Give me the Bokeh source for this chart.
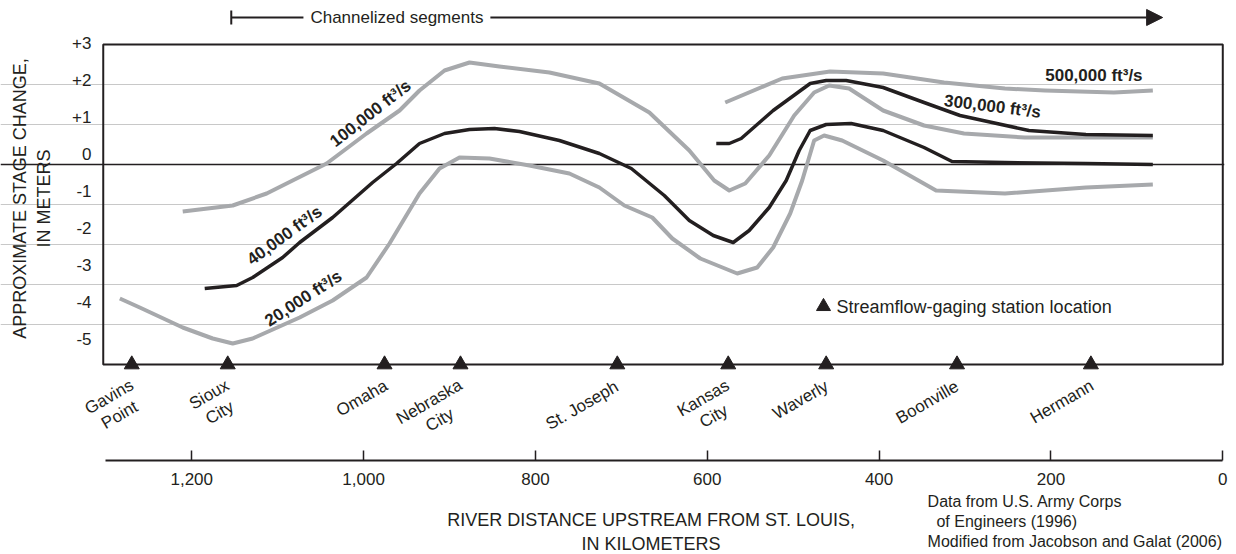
import math
from bokeh.plotting import figure
from bokeh.layouts import column
from bokeh.models import (Range1d, FixedTicker, Label, Arrow, TeeHead, NormalHead,
                          ColumnDataSource, Grid, NumeralTickFormatter)
from bokeh.core.properties import value
from bokeh.embed import file_html
from bokeh.resources import INLINE

# ---------------- data (river km upstream from St. Louis, stage change in m) ----------------
Q20_KM = [1283.7, 1260.5, 1210.5, 1175.6, 1152.3, 1129.1, 1074.4, 1036.0, 996.5, 969.8, 934.9,
          911.6, 888.4, 853.5, 807.0, 760.5, 725.6, 696.5, 664.0, 640.7, 608.1, 565.1, 541.9,
          523.3, 503.5, 489.5, 475.6, 464.0, 443.0, 395.3, 333.7, 253.5, 159.3, 81.4]
Q20_M = [-3.35, -3.575, -4.075, -4.35, -4.475, -4.35, -3.825, -3.4, -2.825, -1.975, -0.725,
         -0.1, 0.175, 0.15, -0.025, -0.225, -0.575, -1.025, -1.325, -1.85, -2.35, -2.725, -2.575,
         -2.075, -1.225, -0.4, 0.6, 0.725, 0.6, 0.1, -0.65, -0.725, -0.575, -0.5]

Q40_KM = [1184.9, 1147.7, 1129.1, 1094.2, 1074.4, 1036.0, 989.5, 961.6, 934.9, 905.8, 876.7,
          847.7, 818.6, 772.1, 725.6, 688.4, 650.0, 620.9, 593.0, 569.8, 551.2, 527.9, 508.1,
          493.0, 480.2, 461.6, 432.6, 395.3, 347.7, 315.1, 253.5, 159.3, 81.4]
Q40_M = [-3.1, -3.025, -2.825, -2.325, -1.95, -1.325, -0.45, 0.025, 0.525, 0.775, 0.875,
         0.9, 0.825, 0.6, 0.275, -0.1, -0.775, -1.4, -1.775, -1.95, -1.65, -1.075, -0.4,
         0.35, 0.85, 1.0, 1.025, 0.85, 0.425, 0.075, 0.05, 0.025, 0.0]

Q100_KM = [1210.5, 1152.3, 1112.8, 1082.6, 1043.0, 996.5, 958.1, 934.9, 905.8, 876.7, 841.9,
           783.7, 725.6, 667.4, 620.9, 591.9, 574.4, 555.8, 527.9, 498.8, 475.6, 458.1, 434.9,
           395.3, 347.7, 301.2, 230.2, 155.8, 81.4]
Q100_M = [-1.175, -1.025, -0.725, -0.4, 0.025, 0.775, 1.35, 1.85, 2.35, 2.55, 2.45,
          2.3, 2.025, 1.3, 0.35, -0.4, -0.65, -0.475, 0.225, 1.225, 1.8, 1.975, 1.9,
          1.35, 0.975, 0.775, 0.675, 0.675, 0.675]

Q300_KM = [589.5, 574.4, 560.5, 523.3, 480.2, 461.6, 438.4, 395.3, 347.7, 305.8, 225.6, 159.3, 81.4]
Q300_M = [0.525, 0.525, 0.65, 1.35, 2.025, 2.1, 2.1, 1.925, 1.55, 1.225, 0.85, 0.75, 0.725]

Q500_KM = [579.1, 512.8, 457.0, 395.3, 324.4, 253.5, 207.0, 126.7, 81.4]
Q500_M = [1.55, 2.15, 2.325, 2.275, 2.05, 1.9, 1.85, 1.8, 1.85]

CURVE_LABELS = ["100,000 ft\u00b3/s", "40,000 ft\u00b3/s", "20,000 ft\u00b3/s",
                "300,000 ft\u00b3/s", "500,000 ft\u00b3/s"]
CURVE_LABEL_KM = [992, 1092, 1070, 268, 150]
CURVE_LABEL_M = [1.275, -1.775, -3.35, 1.45, 2.225]
CURVE_LABEL_ANGLE = [38, 36, 33, -7, 0]

STATIONS = ["Gavins\nPoint", "Sioux\nCity", "Omaha", "Nebraska\nCity", "St. Joseph",
            "Kansas\nCity", "Waverly", "Boonville", "Hermann"]
STATION_KM = [1269.8, 1158.1, 975.6, 887.2, 704.7, 575.6, 461.6, 309.3, 153.5]

X_TICKS = [1200, 1000, 800, 600, 400, 200, 0]
Y_TICKS = [3, 2, 1, 0, -1, -2, -3, -4, -5]

CHANNEL_START_KM = 1154
CHANNEL_END_KM = 70

# ---------------- styling / layout ----------------
FONT = "Liberation Sans"
INK = "#231f20"
GRAY = "#a7a9ac"
GRIDC = "#c8c8c8"

W = 1236
H_TOP, H_BOT = 492, 62
RB = 12                          # right border of the chart figure
PX_PER_KM = 0.8592
PX_PER_M = 40.0
X_HI = -2.0
X_LO = X_HI + (W - RB) / PX_PER_KM
BOX_KM = (1303, 0)
Y_TOP_PX = 44                    # pixel row of +3 m
Y_HI = 3 + Y_TOP_PX / PX_PER_M
Y_LO = 3 - (460 - Y_TOP_PX) / PX_PER_M
LAB_PX = 37.0                    # spacing of the printed y labels in the original artwork
LAB_TOP_PX = 42

p = figure(width=W, height=H_TOP, output_backend="svg", toolbar_location=None,
           x_range=Range1d(X_LO, X_HI), y_range=Range1d(Y_LO, Y_HI),
           y_axis_location=None, min_border_left=0, min_border_right=RB,
           min_border_top=0, min_border_bottom=32, outline_line_color=None)
p.xgrid.visible = False
p.ygrid.visible = False

p.add_layout(Grid(dimension=1, ticker=FixedTicker(ticks=[t for t in Y_TICKS if t not in (0, 3, -5)]),
                  grid_line_color=GRIDC, grid_line_width=1.2, bounds=(BOX_KM[1], BOX_KM[0])))
p.add_layout(Grid(dimension=1, ticker=FixedTicker(ticks=[0]),
                  grid_line_color=INK, grid_line_width=1.4, bounds=(BOX_KM[1], BOX_KM[0])))

# bottom axis
xa = p.xaxis[0]
xa.ticker = FixedTicker(ticks=X_TICKS)
xa.formatter = NumeralTickFormatter(format="0,0")
xa.bounds = (0, 1300)
xa.major_tick_in = 10
xa.major_tick_out = 0
xa.minor_tick_line_color = None
xa.axis_line_color = INK
xa.axis_line_width = 2
xa.major_tick_line_color = INK
xa.major_tick_line_width = 1.5
xa.major_label_standoff = 12
xa.major_label_text_font = FONT
xa.major_label_text_font_size = "17px"
xa.major_label_text_color = INK

# y labels (their own scale, as printed in the original artwork)
p.extra_y_ranges = {"lab": Range1d(3 - (460 - LAB_TOP_PX) / LAB_PX, 3 + LAB_TOP_PX / LAB_PX)}
p.text(x=[X_LO - 91 / PX_PER_KM] * len(Y_TICKS), y=Y_TICKS,
       text=[(f"+{t}" if t > 0 else str(t)) for t in Y_TICKS], y_range_name="lab",
       text_font=value(FONT), text_font_size=value("17px"), text_color=INK,
       text_align="right", text_baseline="middle")

p.text(x=[X_LO - 31 / PX_PER_KM], y=[-0.85], text=["APPROXIMATE STAGE CHANGE,\nIN METERS"],
       angle=math.pi / 2, text_font=value(FONT), text_font_size=value("18px"),
       text_color=INK, text_align="center", text_baseline="middle")

# frame box
p.quad(left=[BOX_KM[0]], right=[BOX_KM[1]], top=[max(Y_TICKS)], bottom=[min(Y_TICKS)],
       fill_color=None, line_color=INK, line_width=2)

# curves
for xs, ys, col, lw in [(Q20_KM, Q20_M, GRAY, 4), (Q100_KM, Q100_M, GRAY, 4),
                        (Q500_KM, Q500_M, GRAY, 4), (Q40_KM, Q40_M, INK, 3.5),
                        (Q300_KM, Q300_M, INK, 3.5)]:
    p.line(xs, ys, line_color=col, line_width=lw, line_join="round")

p.text(x=CURVE_LABEL_KM, y=CURVE_LABEL_M, text=CURVE_LABELS,
       angle=[math.radians(a) for a in CURVE_LABEL_ANGLE],
       text_font=value(FONT), text_font_size=value("17px"), text_font_style="bold",
       text_color=INK, text_align="center", text_baseline="middle")

# stations
p.scatter(STATION_KM, [min(Y_TICKS)] * len(STATION_KM), marker="triangle", size=15, color=INK)


def tw(s, size):
    w = 0.0
    for c in s:
        if c in "ijl.,' ":
            w += 0.24
        elif c in "ftr":
            w += 0.31
        elif c in "mwMW":
            w += 0.86
        elif c.isupper():
            w += 0.69
        else:
            w += 0.55
    return w * size


LAB_SIZE = 17
LH = 1.1 * LAB_SIZE
c30, s30 = math.cos(math.radians(30)), math.sin(math.radians(30))
xo, yo = [], []
for name in STATIONS:
    lines = name.split("\n")
    w1 = tw(lines[0], LAB_SIZE)
    n = len(lines)
    xo.append(-c30 * w1 / 2 + (n - 1) * 0.5 * s30 * LH + 1)
    yo.append(20 + s30 * w1 / 2 + (n - 1) * 0.5 * c30 * LH)
src = ColumnDataSource(dict(x=STATION_KM, y=[min(Y_TICKS)] * len(STATION_KM), t=STATIONS,
                            xo=xo, yo=yo))
p.text(x="x", y="y", text="t", x_offset="xo", y_offset="yo", source=src,
       angle=math.radians(30), text_font=value(FONT), text_font_size=value(f"{LAB_SIZE}px"),
       text_color=INK, text_align="center", text_baseline="middle", text_line_height=1.1)

# legend
p.scatter([464.7], [-3.55], marker="triangle", size=14, color=INK)
p.text(x=[464.7], y=[-3.55], text=["Streamflow-gaging station location"], x_offset=13,
       text_font=value(FONT), text_font_size=value("18px"), text_color=INK,
       text_align="left", text_baseline="middle")

# channelized arrow
p.add_layout(Arrow(x_start=CHANNEL_START_KM, y_start=3.675, x_end=CHANNEL_END_KM, y_end=3.675,
                   line_color=INK, line_width=2,
                   start=TeeHead(size=14, line_color=INK, line_width=2),
                   end=NormalHead(size=16, fill_color=INK, line_color=INK)))
p.add_layout(Label(x=1070, y=3.675, text="Channelized segments", text_align="left",
                   text_baseline="middle", text_font=FONT, text_font_size="17px",
                   text_color=INK, background_fill_color="white", padding=7))

# ---------------- lower strip: axis title and source note ----------------
q = figure(width=W, height=H_BOT, output_backend="svg", toolbar_location=None,
           x_range=Range1d(X_LO, X_HI - RB / PX_PER_KM),
           y_range=Range1d(3 - (H_TOP + H_BOT - Y_TOP_PX) / PX_PER_M, 3 - (H_TOP - Y_TOP_PX) / PX_PER_M),
           x_axis_location=None, y_axis_location=None, min_border=0, outline_line_color=None)
q.grid.visible = False
q.text(x=[658], y=[-9.175], text=["RIVER DISTANCE UPSTREAM FROM ST. LOUIS,\nIN KILOMETERS"],
       text_font=value(FONT), text_font_size=value("18px"), text_color=INK,
       text_align="center", text_baseline="middle")
q.text(x=[333], y=[-8.2],
       text=["Data from U.S. Army Corps\n\u00a0\u00a0of Engineers (1996)\nModified from Jacobson and Galat (2006)"],
       text_font=value(FONT), text_font_size=value("16px"), text_color=INK,
       text_align="left", text_baseline="top")

layout = column(p, q, spacing=0)
open("out.html", "w").write(file_html(layout, INLINE))
